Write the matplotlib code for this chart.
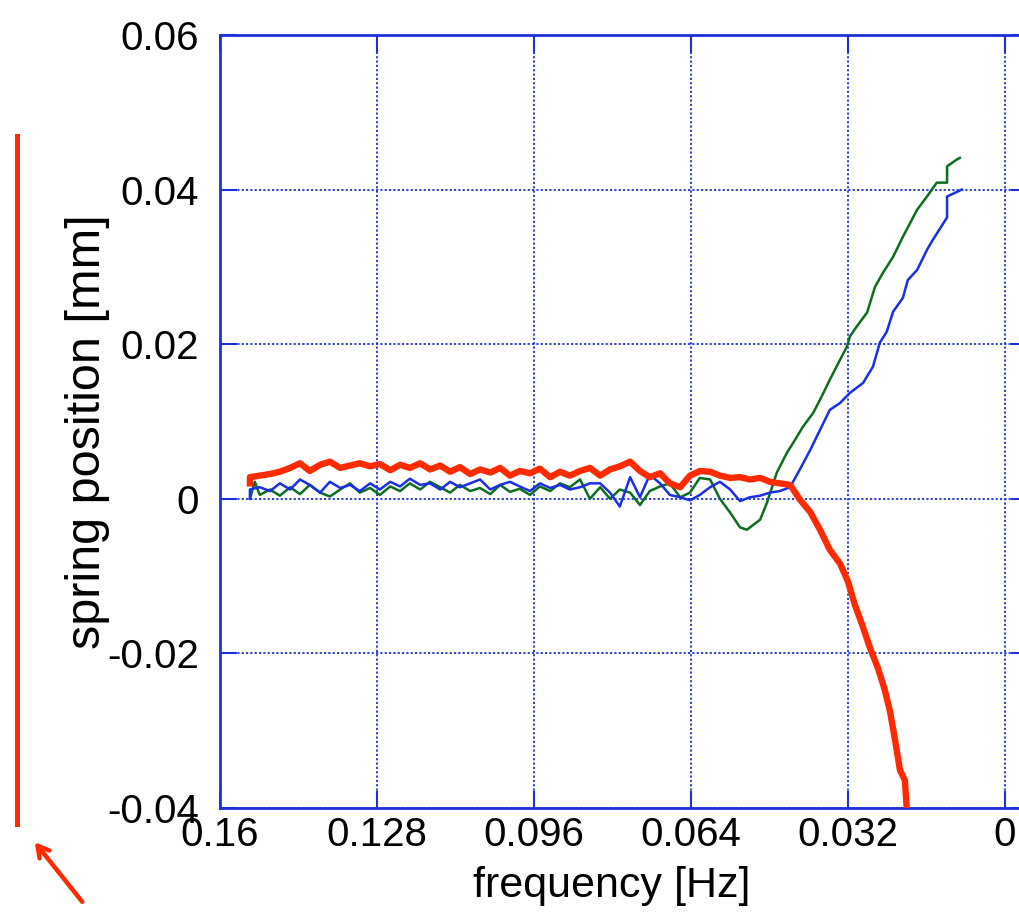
import matplotlib
matplotlib.use('Agg')
import matplotlib.pyplot as plt
from matplotlib.lines import Line2D

plt.rcParams['font.family'] = ['Liberation Sans', 'DejaVu Sans']

# red (thick) trace
red_f = [0.1539, 0.1539, 0.1519, 0.1498, 0.1478, 0.1457, 0.1437, 0.1417, 0.1396, 0.1376, 0.1355,
         0.1335, 0.1315, 0.1294, 0.1274, 0.1253, 0.1233, 0.1213, 0.1192, 0.1172, 0.1151,
         0.1131, 0.1111, 0.1090, 0.1070, 0.1049, 0.1029, 0.1009, 0.0989, 0.0968, 0.0948,
         0.0927, 0.0907, 0.0887, 0.0866, 0.0846, 0.0825, 0.0805, 0.0785, 0.0764, 0.0744,
         0.0724, 0.0703, 0.0683, 0.0662, 0.0642, 0.0622, 0.0601, 0.0581, 0.0560, 0.0540,
         0.0520, 0.0499, 0.0479, 0.0459, 0.0438, 0.0418, 0.0397, 0.0377, 0.0357, 0.0336,
         0.0320, 0.0306, 0.0291, 0.0275, 0.0259, 0.0245, 0.0234, 0.0224, 0.0214, 0.0204, 0.0200]
red_y = [0.0020, 0.0028, 0.0030, 0.0032, 0.0035, 0.0040, 0.0046, 0.0036, 0.0044, 0.0048, 0.0040,
         0.0043, 0.0046, 0.0042, 0.0045, 0.0037, 0.0044, 0.0040, 0.0046, 0.0038, 0.0043,
         0.0035, 0.0041, 0.0032, 0.0038, 0.0034, 0.0040, 0.0030, 0.0036, 0.0033, 0.0039,
         0.0028, 0.0035, 0.0030, 0.0036, 0.0040, 0.0030, 0.0038, 0.0042, 0.0048, 0.0036,
         0.0028, 0.0033, 0.0020, 0.0015, 0.0030, 0.0036, 0.0035, 0.0030, 0.0027, 0.0028,
         0.0025, 0.0027, 0.0022, 0.0020, 0.0018, -0.0001, -0.0017, -0.0040, -0.0066, -0.0084,
         -0.0107, -0.0137, -0.0163, -0.0193, -0.0219, -0.0247, -0.0276, -0.0312, -0.0351, -0.0364, -0.0402]

# blue trace
blue_f = [0.1539, 0.1539, 0.1519, 0.1498, 0.1478, 0.1457, 0.1437, 0.1417, 0.1396, 0.1376, 0.1355,
          0.1335, 0.1315, 0.1294, 0.1274, 0.1253, 0.1233, 0.1213, 0.1192, 0.1172, 0.1151,
          0.1131, 0.1111, 0.1090, 0.1070, 0.1049, 0.1029, 0.1009, 0.0989, 0.0968, 0.0948,
          0.0927, 0.0907, 0.0887, 0.0866, 0.0846, 0.0825, 0.0805, 0.0785, 0.0764, 0.0744,
          0.0724, 0.0703, 0.0683, 0.0662, 0.0642, 0.0622, 0.0601, 0.0581, 0.0560, 0.0540,
          0.0520, 0.0499, 0.0479, 0.0459, 0.0438, 0.0418, 0.0397, 0.0377, 0.0357, 0.0336,
          0.0316, 0.0289, 0.0269, 0.0255, 0.0241, 0.0228, 0.0208, 0.0198, 0.0179, 0.0159,
          0.0147, 0.0118, 0.0118, 0.0098, 0.0088]
blue_y = [0.0, 0.0012, 0.0015, 0.0010, 0.0020, 0.0012, 0.0025, 0.0018, 0.0008, 0.0022, 0.0014,
          0.0018, 0.0010, 0.0020, 0.0012, 0.0022, 0.0016, 0.0026, 0.0018, 0.0020, 0.0012,
          0.0022, 0.0015, 0.0020, 0.0025, 0.0012, 0.0018, 0.0022, 0.0016, 0.0010, 0.0020,
          0.0014, 0.0018, 0.0012, 0.0015, 0.0020, 0.0020, 0.0008, -0.0010, 0.0028, 0.0002,
          0.0031, 0.0020, 0.0005, 0.0002, -0.0002, 0.0005, 0.0015, 0.0022, 0.0012, -0.0003,
          0.0002, 0.0004, 0.0008, 0.0010, 0.0015, 0.0038, 0.0063, 0.0089, 0.0115, 0.0124,
          0.0137, 0.0150, 0.0171, 0.0202, 0.0216, 0.0242, 0.0260, 0.0283, 0.0296, 0.0322,
          0.0335, 0.0364, 0.0391, 0.0397, 0.0400]

# green trace
green_f = [0.1539, 0.1529, 0.1519, 0.1498, 0.1478, 0.1457, 0.1437, 0.1417, 0.1396, 0.1376, 0.1355,
           0.1335, 0.1315, 0.1294, 0.1274, 0.1253, 0.1233, 0.1213, 0.1192, 0.1172, 0.1151,
           0.1131, 0.1111, 0.1090, 0.1070, 0.1049, 0.1029, 0.1009, 0.0989, 0.0968, 0.0948,
           0.0927, 0.0907, 0.0887, 0.0866, 0.0846, 0.0825, 0.0805, 0.0785, 0.0764, 0.0744,
           0.0724, 0.0703, 0.0683, 0.0662, 0.0642, 0.0622, 0.0601, 0.0581, 0.0560, 0.0540,
           0.0526, 0.0499, 0.0485, 0.0465, 0.0444, 0.0432, 0.0412, 0.0391, 0.0377, 0.0357,
           0.0336, 0.0322, 0.0316, 0.0302, 0.0281, 0.0265, 0.0249, 0.0228, 0.0208, 0.0179,
           0.0159, 0.0139, 0.0118, 0.0118, 0.0098, 0.0092]
green_y = [0.0, 0.0022, 0.0005, 0.0012, 0.0004, 0.0015, 0.0006, 0.0018, 0.0008, 0.0003, 0.0012,
           0.0020, 0.0008, 0.0014, 0.0005, 0.0016, 0.0010, 0.0020, 0.0012, 0.0022, 0.0015,
           0.0008, 0.0018, 0.0010, 0.0014, 0.0006, 0.0018, 0.0009, 0.0013, 0.0005, 0.0016,
           0.0010, 0.0020, 0.0015, 0.0025, 0.0000, 0.0015, 0.0000, 0.0012, 0.0008, -0.0008,
           0.0010, 0.0016, 0.0020, 0.0002, 0.0008, 0.0027, 0.0025, 0.0000, -0.0018, -0.0037,
           -0.0040, -0.0027, -0.0005, 0.0034, 0.0060, 0.0072, 0.0093, 0.0111, 0.0128, 0.0154,
           0.0180, 0.0197, 0.0210, 0.0223, 0.0241, 0.0274, 0.0292, 0.0313, 0.0339, 0.0374,
           0.0391, 0.0409, 0.0409, 0.0430, 0.0439, 0.0441]

x_ticks = [0.16, 0.128, 0.096, 0.064, 0.032, 0]
x_labels = ['0.16', '0.128', '0.096', '0.064', '0.032', '0']
y_ticks = [-0.04, -0.02, 0, 0.02, 0.04, 0.06]
y_labels = ['-0.04', '-0.02', '0', '0.02', '0.04', '0.06']

frame_blue = '#1f30d8'
red = '#ff2a00'

fig = plt.figure(figsize=(10.2, 9.17), dpi=100)
ax = fig.add_axes([220 / 1020, 109 / 917, 808 / 1020, 773 / 917])

ax.plot(green_f, green_y, color='#0b6e1f', lw=1.8, zorder=3)
ax.plot(blue_f, blue_y, color='#1a2ee6', lw=1.8, zorder=3)
ax.plot(red_f, red_y, color=red, lw=4.6, zorder=4)

ax.set_xlim(0.16, -0.0047)
ax.set_ylim(-0.04, 0.06)
ax.set_xticks(x_ticks)
ax.set_xticklabels(x_labels)
ax.set_yticks(y_ticks)
ax.set_yticklabels(y_labels)
ax.tick_params(axis='both', direction='in', length=12, width=1.5, color=frame_blue,
               labelsize=29, top=True, right=True)
ax.tick_params(axis='x', pad=6)
ax.tick_params(axis='y', pad=15)
ax.grid(True, color=frame_blue, linestyle=(0, (1.2, 1.2)), lw=1.3)
for s in ax.spines.values():
    s.set_color(frame_blue)
    s.set_linewidth(2)

ax.set_xlabel('frequency [Hz]', fontsize=31)
ax.set_ylabel('spring position [mm]', fontsize=35)
ax.xaxis.set_label_coords((612 - 220) / 808, -(866 - 808) / 773)
ax.yaxis.set_label_coords(-(220 - 110) / 808, (808 - 432) / 773)

# red marker line and arrow on the left
fig.add_artist(Line2D([17 / 1020, 17 / 1020], [1 - 136 / 917, 1 - 824 / 917],
                      transform=fig.transFigure, color=red, lw=3.6))
ax.annotate('', xy=(33, 77), xytext=(84, 13), xycoords='figure pixels',
            textcoords='figure pixels',
            arrowprops=dict(arrowstyle='->,head_length=0.8,head_width=0.45', color=red, lw=3.2))

fig.savefig('out.png', dpi=100)
